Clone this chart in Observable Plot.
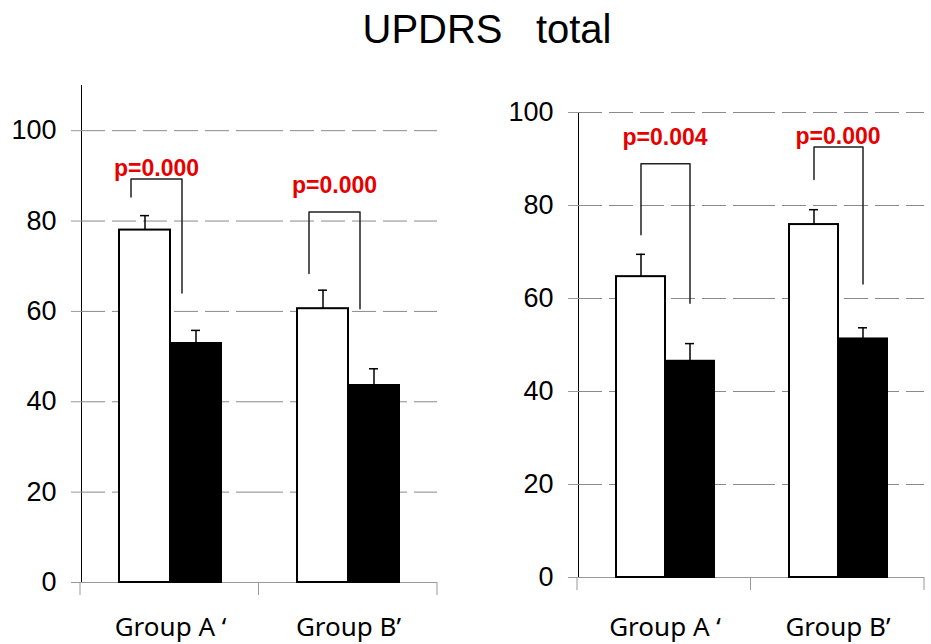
<!DOCTYPE html>
<html><head><meta charset="utf-8">
<script src="https://cdn.jsdelivr.net/npm/d3@7"></script>
<script src="https://cdn.jsdelivr.net/npm/@observablehq/plot@0.6"></script>
<style>
body{margin:0;background:#fff;}
#wrap{width:931px;height:644px;position:relative;overflow:hidden;background:#fff;}
#title{height:70px;box-sizing:border-box;padding-top:9px;padding-left:43px;text-align:center;font-family:"Liberation Sans",Arial,sans-serif;font-size:40px;line-height:40px;white-space:pre;color:#000;}
#row{display:flex;align-items:flex-start;}
</style></head><body>
<div id="wrap"><div id="title">UPDRS   total</div><div id="row"></div></div>
<script>
// ---- data ----
const groups = ["Group A \u2018", "Group B\u2019"];
const times = ["pre", "post"];
const yTicks = [0, 20, 40, 60, 80, 100];

// left panel
const leftPreMean = [78.0, 60.6];
const leftPreErr = [3.2, 4.1];
const leftPostMean = [52.9, 43.6];
const leftPostErr = [2.9, 3.7];
const leftBracketLeft = [85.3, 68.4];
const leftBracketTop = [89.3, 82.0];
const leftBracketRight = [64.1, 60.6];
const leftPLabel = ["p=0.000", "p=0.000"];
const leftPLabelY = [91.7, 87.8];

// right panel
const rightPreMean = [64.7, 75.9];
const rightPreErr = [4.8, 3.2];
const rightPostMean = [46.5, 51.3];
const rightPostErr = [3.8, 2.4];
const rightBracketLeft = [73.7, 85.6];
const rightBracketTop = [89.0, 92.6];
const rightBracketRight = [59.0, 63.1];
const rightPLabel = ["p=0.004", "p=0.000"];
const rightPLabelY = [94.7, 94.9];

function panel(cfg) {
  const rows = [];
  groups.forEach((g, i) => {
    rows.push({kind: "bar", group: g, time: "pre", mean: cfg.preMean[i], err: cfg.preErr[i]});
    rows.push({kind: "bar", group: g, time: "post", mean: cfg.postMean[i], err: cfg.postErr[i]});
    rows.push({kind: "bracket", group: g, time: "pre", v: cfg.bracketLeft[i]});
    rows.push({kind: "bracket", group: g, time: "pre", v: cfg.bracketTop[i]});
    rows.push({kind: "bracket", group: g, time: "post", v: cfg.bracketTop[i]});
    rows.push({kind: "bracket", group: g, time: "post", v: cfg.bracketRight[i]});
    rows.push({kind: "label", group: g, text: cfg.pLabel[i], v: cfg.pLabelY[i]});
  });
  const isBar = d => d.kind === "bar";
  const height = 574;
  const plot = Plot.plot({
    width: cfg.width,
    height,
    marginLeft: cfg.marginLeft,
    marginRight: cfg.marginRight,
    marginTop: cfg.marginTop,
    marginBottom: cfg.marginBottom,
    facet: {data: rows, x: "group"},
    fx: {domain: groups, padding: 0, axis: "bottom", label: null, tickSize: 0, tickPadding: cfg.labelPad},
    x: {domain: times, paddingInner: 0, paddingOuter: cfg.xPadOuter, axis: null},
    y: {domain: [0, cfg.yMax], ticks: yTicks, tickSize: 10, tickPadding: 15, line: true, label: null},
    style: {fontFamily: "'Liberation Sans', Arial, sans-serif", fontSize: "27px", background: "white", color: "black", overflow: "visible"},
    marks: [
      Plot.ruleY(yTicks.filter(t => t > 0), {stroke: "#8a8a8a", strokeWidth: 1, strokeDasharray: "24,7"}),
      Plot.ruleY([0], {stroke: "#999"}),
      Plot.ruleX(rows, {filter: isBar, x: "time", y1: "mean", y2: d => d.mean + d.err, stroke: "black", strokeWidth: 1.5}),
      Plot.tickY(rows, {filter: isBar, x: "time", y: d => d.mean + d.err, stroke: "black", strokeWidth: 1.5, insetLeft: cfg.capInset, insetRight: cfg.capInset}),
      Plot.barY(rows, {filter: d => isBar(d) && d.time === "pre", x: "time", y: "mean", fill: "white", stroke: "black", strokeWidth: 2}),
      Plot.barY(rows, {filter: d => isBar(d) && d.time === "post", x: "time", y: "mean", fill: "black", stroke: "black", strokeWidth: 2}),
      Plot.line(rows, {filter: d => d.kind === "bracket", x: "time", y: "v", stroke: "#222", strokeWidth: 1.5, dx: cfg.annotDx, curve: "linear"}),
      Plot.text(rows, {filter: d => d.kind === "label", y: "v", text: "text", dx: cfg.annotDx, fill: "#e60000", fontWeight: "bold", fontSize: 23, fontFamily: "'Liberation Sans', Arial, sans-serif", lineAnchor: "middle"})
    ]
  });
  const svg = d3.select(plot);
  svg.selectAll('[aria-label^="y-axis"] line, [aria-label^="y-axis"] path').attr("stroke", "#999");
  svg.selectAll('[aria-label^="y-axis"] text').attr("fill", "#000");
  svg.selectAll('[aria-label^="fx-axis"] text')
    .style("font-family", "'Noto Sans', 'Open Sans', sans-serif")
    .style("font-size", "26px")
    .attr("fill", "#000");
  // category boundary ticks derived from fx scale
  const fxs = plot.scale("fx");
  const r0 = fxs.range[0], r1 = fxs.range[1];
  const step = (r1 - r0) / fxs.domain.length;
  const y0 = height - cfg.marginBottom;
  const edges = d3.range(fxs.domain.length + 1).map(i => r0 + i * step);
  svg.append("g").selectAll("line").data(edges).join("line")
    .attr("x1", d => d).attr("x2", d => d)
    .attr("y1", y0).attr("y2", y0 + 13)
    .attr("stroke", "#999");
  return plot;
}

const row = document.getElementById("row");
row.appendChild(panel({
  preMean: leftPreMean, preErr: leftPreErr, postMean: leftPostMean, postErr: leftPostErr,
  bracketLeft: leftBracketLeft, bracketTop: leftBracketTop, bracketRight: leftBracketRight,
  pLabel: leftPLabel, pLabelY: leftPLabelY,
  yMax: 110, width: 460, marginLeft: 80, marginRight: 23, marginTop: 15, marginBottom: 62,
  xPadOuter: 0.716, capInset: 21, annotDx: -14, labelPad: 35
}));
row.appendChild(panel({
  preMean: rightPreMean, preErr: rightPreErr, postMean: rightPostMean, postErr: rightPostErr,
  bracketLeft: rightBracketLeft, bracketTop: rightBracketTop, bracketRight: rightBracketRight,
  pLabel: rightPLabel, pLabelY: rightPLabelY,
  yMax: 100, width: 471, marginLeft: 117, marginRight: 7, marginTop: 42, marginBottom: 67,
  xPadOuter: 0.735, capInset: 20, annotDx: 0, labelPad: 40
}));
</script>
</body></html>
